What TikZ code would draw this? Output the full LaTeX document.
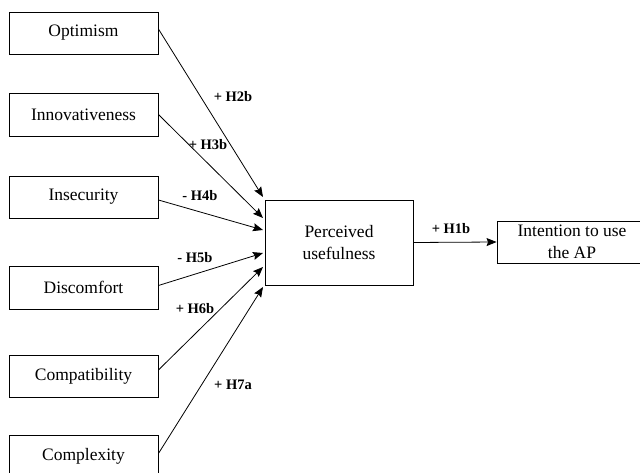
\documentclass[tikz,border=0pt]{standalone}
\usepackage{fontspec}
\setmainfont{Liberation Serif}
\usetikzlibrary{arrows.meta,calc}
\begin{document}
\begin{tikzpicture}[x=1pt,y=-1pt,
  box/.style={draw, line width=0.9pt, align=center, inner sep=0pt,
    font=\fontsize{17.5}{22}\selectfont},
  link/.style={line width=0.8pt, -{Stealth[length=10pt,width=8pt,inset=1.5pt]}},
  hyp/.style={font=\fontsize{14.5}{17}\selectfont\bfseries, inner sep=0pt}]
\useasboundingbox (0,0) rectangle (640,473);
\clip (0,0) rectangle (640,473);

% antecedent constructs
\node[box, minimum width=149pt, minimum height=42pt] (opt) at (83.5,33) {Optimism};
\node[box, minimum width=149pt, minimum height=43pt] (inn) at (83.5,114.5) {Innovativeness};
\node[box, minimum width=149pt, minimum height=42pt] (ins) at (83.5,197) {Insecurity};
\node[box, minimum width=149pt, minimum height=43pt] (dis) at (83.5,287.5) {Discomfort};
\node[box, minimum width=149pt, minimum height=42pt] (com) at (83.5,376) {Compatibility};
\node[box, minimum width=149pt, minimum height=43pt] (cpx) at (83.5,456.5) {Complexity};

% mediator and outcome
\node[box, minimum width=148pt, minimum height=85pt] (pu) at (339,242.5) {Perceived\\usefulness};
\node[box, minimum width=150pt, minimum height=42pt] (int) at (572,242) {Intention to use\\the AP};

% arrow end points along the left side of the mediator
\coordinate (t1) at (263,197);
\coordinate (t2) at (263,218);
\coordinate (t3) at (263,230);
\coordinate (t4) at (263,253);
\coordinate (t5) at (263,267);
\coordinate (t6) at (263,287);

\draw[link] ($(opt.east)+(0,-4)$) -- (t1);
\draw[link] (inn.east) -- (t2);
\draw[link] ($(ins.east)+(0,3)$) -- (t3);
\draw[link] ($(dis.east)+(0,-2)$) -- (t4);
\draw[link] ($(com.east)+(0,-6)$) -- (t5);
\draw[link] ($(cpx.east)+(0,-3)$) -- (t6);
\draw[link] (pu.east) -- (int.west);

% hypothesis labels
\node[hyp] (h2b) at (233,97) {+ H2b};
\node[hyp] (h3b) at (208,145) {+ H3b};
\node[hyp] (h4b) at (200,196) {- H4b};
\node[hyp] (h5b) at (195,258) {- H5b};
\node[hyp] (h6b) at (195,309) {+ H6b};
\node[hyp] (h7a) at (233,385) {+ H7a};
\node[hyp] (h1b) at (451,229) {+ H1b};
\end{tikzpicture}
\end{document}
